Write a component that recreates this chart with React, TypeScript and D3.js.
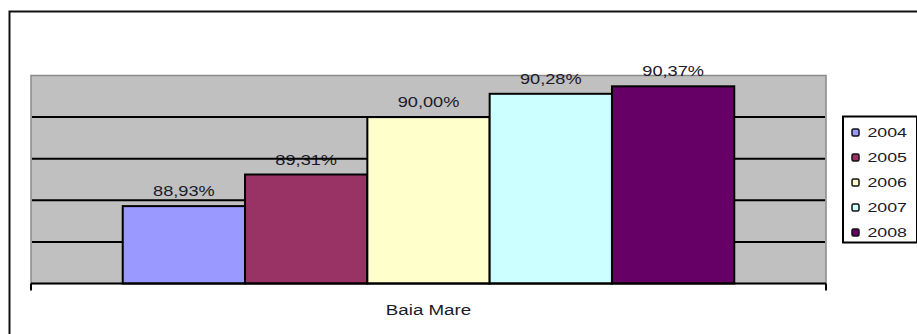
import React from "react";
import * as d3 from "d3";

// Rata de promovare – Baia Mare, 2004–2008
const categories: string[] = ["Baia Mare"];
const seriesYears: string[] = ["2004", "2005", "2006", "2007", "2008"];
const seriesValues: number[] = [88.93, 89.31, 90.0, 90.28, 90.37];
const seriesColors: string[] = ["#9999FF", "#993366", "#FFFFCC", "#CCFFFF", "#660066"];
const gridTicks: number[] = [88.5, 89, 89.5, 90];
const yDomain: [number, number] = [88, 90.5];

const W = 917;
const H = 334;
const plot = { left: 31, right: 826, top: 75.5, bottom: 283.5 };
const FONT = "'Liberation Sans', Arial, sans-serif";
const TEXT = "#1a1a2a";

const fmt = (v: number) => v.toFixed(2).replace(".", ",") + "%";

export default function App() {
  const y = d3.scaleLinear().domain(yDomain).range([plot.bottom, plot.top]);
  const x0 = d3
    .scaleBand<string>()
    .domain(categories)
    .range([plot.left, plot.right])
    .paddingInner(0)
    .paddingOuter(0.15);
  const x1 = d3
    .scaleBand<string>()
    .domain(seriesYears)
    .range([0, x0.bandwidth()])
    .padding(0);
  const color = d3.scaleOrdinal<string, string>().domain(seriesYears).range(seriesColors);

  const legend = { x: 843, y: 116.5, w: 74, h: 126, first: 132.5, step: 25 };

  return (
    <svg
      width={W}
      height={H}
      style={{ position: "absolute", left: 0, top: 0, background: "#fff" }}
    >
      <rect x={0} y={0} width={W} height={H} fill="#fff" />
      {/* chart area frame */}
      <rect x={9.5} y={11.5} width={W + 20} height={H + 20} fill="none" stroke="#111" strokeWidth={2} />

      {/* plot area */}
      <rect
        x={plot.left}
        y={plot.top}
        width={plot.right - plot.left}
        height={plot.bottom - plot.top}
        fill="#C0C0C0"
        stroke="#8a8a8a"
        strokeWidth={1.5}
      />

      {categories.map((cat) => (
        <g key={cat}>
          {/* value labels */}
          {seriesYears.map((yr, i) => {
            const cx = (x0(cat) ?? 0) + (x1(yr) ?? 0) + x1.bandwidth() / 2;
            return (
              <text
                key={"l" + yr}
                transform={`translate(${cx},${y(seriesValues[i]) - 10}) scale(1.3,1)`}
                textAnchor="middle"
                fontFamily={FONT}
                fontSize={14}
                fill={TEXT}
              >
                {fmt(seriesValues[i])}
              </text>
            );
          })}
        </g>
      ))}

      {/* gridlines */}
      {gridTicks.map((t) => (
        <line
          key={t}
          x1={plot.left + 1}
          x2={plot.right - 1}
          y1={y(t)}
          y2={y(t)}
          stroke="#000"
          strokeWidth={2}
        />
      ))}

      {/* bars */}
      {categories.map((cat) => (
        <g key={"b" + cat} transform={`translate(${x0(cat)},0)`}>
          {seriesYears.map((yr, i) => (
            <rect
              key={yr}
              x={x1(yr)}
              y={y(seriesValues[i])}
              width={x1.bandwidth()}
              height={plot.bottom - y(seriesValues[i])}
              fill={color(yr)}
              stroke="#000"
              strokeWidth={2}
            />
          ))}
        </g>
      ))}

      {/* category axis */}
      <line x1={plot.left} x2={plot.right} y1={plot.bottom} y2={plot.bottom} stroke="#000" strokeWidth={2} />
      {[plot.left, plot.right].map((tx) => (
        <line key={tx} x1={tx} x2={tx} y1={plot.bottom} y2={plot.bottom + 7} stroke="#000" strokeWidth={2} />
      ))}
      {categories.map((cat) => (
        <text
          key={"c" + cat}
          transform={`translate(${(x0(cat) ?? 0) + x0.bandwidth() / 2},315) scale(1.25,1)`}
          textAnchor="middle"
          fontFamily={FONT}
          fontSize={15}
          fill={TEXT}
        >
          {cat}
        </text>
      ))}

      {/* legend */}
      <rect x={legend.x} y={legend.y} width={legend.w} height={legend.h} fill="#fff" stroke="#000" strokeWidth={2} />
      {seriesYears.map((yr, i) => {
        const cy = legend.first + i * legend.step;
        return (
          <g key={"k" + yr}>
            <rect
              x={852}
              y={cy - 3.5}
              width={7}
              height={7}
              rx={1.5}
              fill={color(yr)}
              stroke="#111"
              strokeWidth={1.5}
            />
            <text
              transform={`translate(867.5,${cy + 4.5}) scale(1.42,1)`}
              fontFamily={FONT}
              fontSize={12.5}
              fill={TEXT}
            >
              {yr}
            </text>
          </g>
        );
      })}
    </svg>
  );
}
